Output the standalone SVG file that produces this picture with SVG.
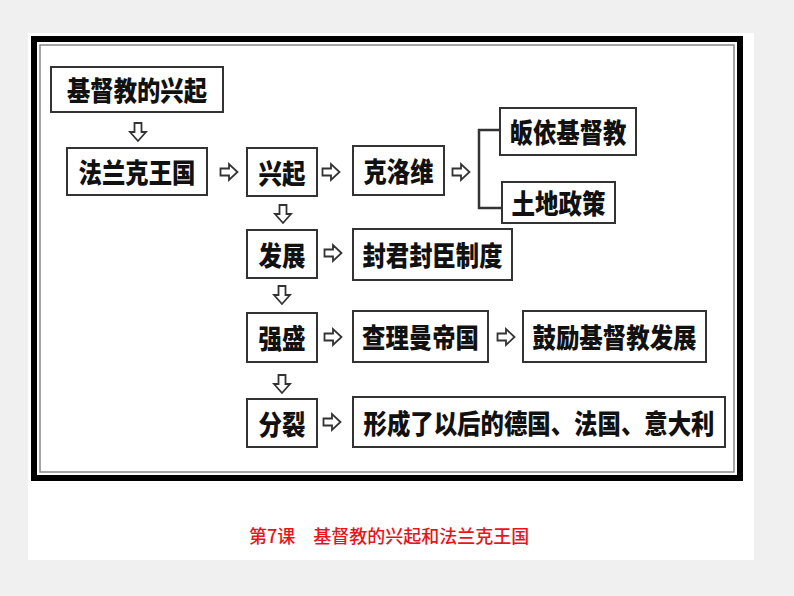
<svg xmlns="http://www.w3.org/2000/svg" xmlns:xlink="http://www.w3.org/1999/xlink" width="794" height="596" viewBox="0 0 794 596">
  <defs>
    <style>
      .box { fill: #ffffff; stroke: #333333; stroke-width: 2; }
      .lbl { font-family: "Noto Sans CJK SC", "Noto Sans", sans-serif; font-size: 27px; font-weight: 900; fill: #111111; text-anchor: middle; dominant-baseline: central; }
      .arr { fill: #ffffff; stroke: #333333; stroke-width: 1.8; stroke-linejoin: miter; }
      .conn { fill: none; stroke: #333333; stroke-width: 2.5; }
      .title { font-family: "Noto Sans CJK SC", "Noto Sans", sans-serif; font-size: 18px; font-weight: 500; fill: #e8141c; dominant-baseline: central; }
    </style>
    <path id="ra" class="arr" d="M-8.5,-3.5 H0 V-8 L8.5,0 L0,8 V3.5 H-8.5 Z"/>
    <path id="da" class="arr" d="M-3.5,-9 V0 H-8 L0,9 L8,0 H3.5 V-9 Z"/>
  </defs>

  <rect x="0" y="0" width="794" height="596" fill="#f0f0f0"/>
  <rect x="28" y="33" width="726" height="527" fill="#ffffff"/>

  <rect x="34" y="39" width="706" height="439" fill="none" stroke="#000000" stroke-width="6"/>
  <rect x="40" y="45" width="694" height="427" fill="none" stroke="#888888" stroke-width="1.5"/>

  <g id="connectors">
    <use xlink:href="#da" x="138" y="132"/>
    <use xlink:href="#ra" x="229" y="172"/>
    <use xlink:href="#ra" x="331" y="172"/>
    <use xlink:href="#ra" x="461" y="172"/>
    <path class="conn" d="M500,130 H479 V208 H502"/>
    <use xlink:href="#da" x="283" y="214"/>
    <use xlink:href="#ra" x="333" y="253"/>
    <use xlink:href="#da" x="282" y="295"/>
    <use xlink:href="#ra" x="333" y="337"/>
    <use xlink:href="#ra" x="506" y="337"/>
    <use xlink:href="#da" x="282" y="384"/>
    <use xlink:href="#ra" x="332" y="422"/>
  </g>

  <g id="n1"><rect class="box" x="51" y="67" width="172" height="45"/><text class="lbl" x="137" y="89.5" textLength="140" lengthAdjust="spacingAndGlyphs">基督教的兴起</text></g>
  <g id="n2"><rect class="box" x="67" y="148" width="140" height="47"/><text class="lbl" x="137" y="171.5" textLength="117" lengthAdjust="spacingAndGlyphs">法兰克王国</text></g>
  <g id="n3"><rect class="box" x="247" y="148" width="70" height="48"/><text class="lbl" x="282" y="172" textLength="47" lengthAdjust="spacingAndGlyphs">兴起</text></g>
  <g id="n4"><rect class="box" x="353" y="146" width="91" height="49"/><text class="lbl" x="398.5" y="170.5" textLength="70" lengthAdjust="spacingAndGlyphs">克洛维</text></g>
  <g id="n5"><rect class="box" x="500" y="108" width="136" height="47"/><text class="lbl" x="568" y="131.5" textLength="117" lengthAdjust="spacingAndGlyphs">皈依基督教</text></g>
  <g id="n6"><rect class="box" x="502" y="182" width="113" height="41"/><text class="lbl" x="558.5" y="202.5" textLength="94" lengthAdjust="spacingAndGlyphs">土地政策</text></g>
  <g id="n7"><rect class="box" x="247" y="230" width="70" height="48"/><text class="lbl" x="282" y="254" textLength="47" lengthAdjust="spacingAndGlyphs">发展</text></g>
  <g id="n8"><rect class="box" x="353" y="229" width="159" height="51"/><text class="lbl" x="432.5" y="254.5" textLength="140" lengthAdjust="spacingAndGlyphs">封君封臣制度</text></g>
  <g id="n9"><rect class="box" x="247" y="313" width="70" height="49"/><text class="lbl" x="282" y="337.5" textLength="47" lengthAdjust="spacingAndGlyphs">强盛</text></g>
  <g id="n10"><rect class="box" x="353" y="311" width="135" height="51"/><text class="lbl" x="420.5" y="336.5" textLength="117" lengthAdjust="spacingAndGlyphs">查理曼帝国</text></g>
  <g id="n11"><rect class="box" x="523" y="311" width="183" height="51"/><text class="lbl" x="614.5" y="336.5" textLength="164" lengthAdjust="spacingAndGlyphs">鼓励基督教发展</text></g>
  <g id="n12"><rect class="box" x="247" y="399" width="70" height="48"/><text class="lbl" x="282" y="423" textLength="47" lengthAdjust="spacingAndGlyphs">分裂</text></g>
  <g id="n13"><rect class="box" x="353" y="397" width="372" height="50"/><text class="lbl" x="539" y="422" textLength="351" lengthAdjust="spacingAndGlyphs">形成了以后的德国、法国、意大利</text></g>

  <text class="title" x="249" y="535">第7课　基督教的兴起和法兰克王国</text>
</svg>
